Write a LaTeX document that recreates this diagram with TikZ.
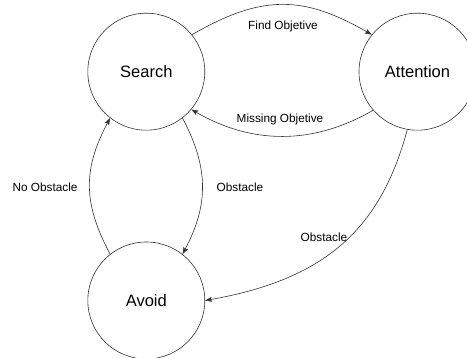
\documentclass[tikz,border=0pt]{standalone}
\usepackage{fontspec}
\setmainfont{Liberation Sans}
\usetikzlibrary{arrows.meta}
\begin{document}
\begin{tikzpicture}[x=1pt,y=1pt,
  state/.style={circle,draw=black!80,line width=0.6pt,minimum size=117pt,inner sep=0pt,font=\fontsize{16.5}{18}\selectfont},
  edge/.style={draw=black!80,line width=0.6pt,-{Stealth[length=7pt,width=5pt,inset=1.5pt]}},
  lbl/.style={font=\fontsize{11.8}{13}\selectfont,inner sep=0pt}]
\useasboundingbox (0,0) rectangle (467,-358);
\clip (0,0) rectangle (467,-358);
\fill[white] (0,0) rectangle (467,-358);
\node[state] (S) at (146.3,-71.7) {Search};
\node[state] (A) at (417.5,-71.7) {Attention};
\node[state] (V) at (146.3,-300.5) {Avoid};
\draw[edge] (S.39) to[out=30,in=150,distance=80] (A.141);
\draw[edge] (A.221) to[out=-150,in=-30,distance=70] (S.-40);
\draw[edge] (V.128) to[out=118,in=242,distance=58] (S.232);
\draw[edge] (S.-52) to[out=-62,in=62,distance=56] (V.52);
\draw[edge] (A.260) to[out=255,in=10,out distance=105,in distance=120] (V.0);
\node[lbl] (l1) at (283,-26) {Find Objetive};
\node[lbl] (l2) at (280,-119) {Missing Objetive};
\node[lbl] (l3) at (45,-187) {No Obstacle};
\node[lbl] (l4) at (240,-187) {Obstacle};
\node[lbl] (l5) at (324,-237) {Obstacle};
\end{tikzpicture}
\end{document}
